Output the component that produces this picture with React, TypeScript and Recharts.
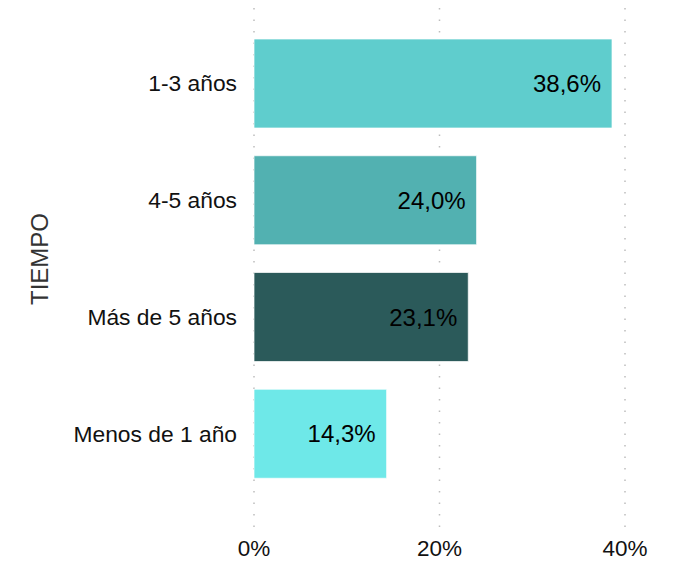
import React from "react";
import {
  BarChart,
  Bar,
  XAxis,
  YAxis,
  CartesianGrid,
  Cell,
  LabelList,
} from "recharts";

const CATEGORIES = ["1-3 años", "4-5 años", "Más de 5 años", "Menos de 1 año"];
const VALUES = [38.6, 24.0, 23.1, 14.3];
const COLORS = ["#5FCDCD", "#52B1B1", "#2B5A5A", "#6EE8E8"];
const X_TICKS = [0, 20, 40];

const data = CATEGORIES.map((name, i) => ({ name, value: VALUES[i] }));

const FONT = "'Liberation Sans', Arial, sans-serif";

function fmt(v: number) {
  return v.toFixed(1).replace(".", ",") + "%";
}

function AxisTitle(props: any) {
  const vb = props.viewBox || {};
  const cx = (vb.x ?? 0) + 39;
  const cy = (vb.y ?? 0) + (vb.height ?? 0) / 2 - 10;
  return (
    <text
      x={cx}
      y={cy}
      transform={`rotate(-90, ${cx}, ${cy})`}
      textAnchor="middle"
      dominantBaseline="central"
      fill="#333333"
      fontSize={24}
      fontFamily={FONT}
    >
      TIEMPO
    </text>
  );
}

export default function App() {
  return (
    <div style={{ position: "absolute", left: 0, top: 0, background: "#fff" }}>
      <BarChart
        width={684}
        height={563}
        data={data}
        layout="vertical"
        margin={{ top: 8, right: 59, bottom: 0, left: 0 }}
      >
        <CartesianGrid
          horizontal={false}
          stroke="#bdbdbd"
          strokeWidth={1.5}
          strokeDasharray="1.5 10"
        />
        <XAxis
          type="number"
          domain={[0, 40]}
          ticks={X_TICKS}
          tickFormatter={(v: number) => `${v}%`}
          axisLine={false}
          tickLine={false}
          tickSize={0}
          tickMargin={10}
          height={33}
          tick={{ fill: "#111", fontSize: 22.5, fontFamily: FONT }}
        />
        <YAxis
          type="category"
          dataKey="name"
          width={254}
          axisLine={false}
          tickLine={false}
          tickSize={0}
          tickMargin={17}
          padding={{ top: 17, bottom: 38 }}
          tick={{ fill: "#111", fontSize: 22.8, fontFamily: FONT }}
          label={<AxisTitle />}
        />
        <Bar
          dataKey="value"
          barSize={89}
          stroke="rgba(255,255,255,0.7)"
          strokeWidth={1}
          isAnimationActive={false}
        >
          {data.map((d, i) => (
            <Cell key={d.name} fill={COLORS[i]} />
          ))}
          <LabelList
            dataKey="value"
            position="insideRight"
            offset={11}
            formatter={(v: any) => fmt(Number(v))}
            fill="#000"
            fontSize={24}
            fontFamily={FONT}
          />
        </Bar>
      </BarChart>
    </div>
  );
}
